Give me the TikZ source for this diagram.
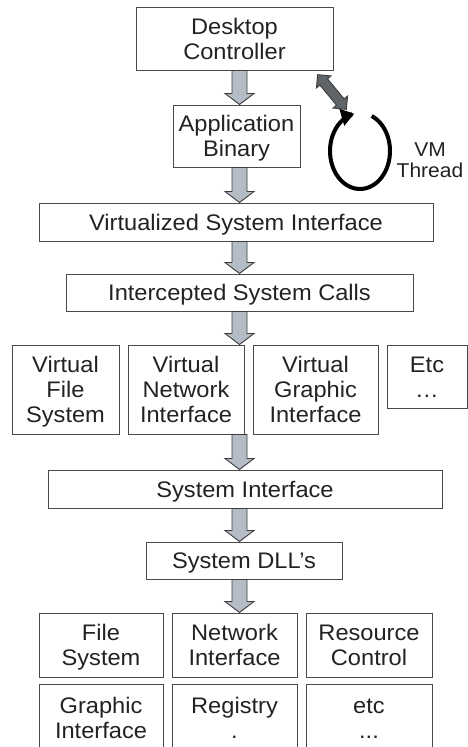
\documentclass[tikz,border=0pt]{standalone}
\usepackage{fontspec}
\setmainfont{Liberation Sans}[FakeStretch=1.05]
\usetikzlibrary{calc,shapes.arrows,arrows.meta}
\definecolor{boxline}{HTML}{4A4A4A}
\definecolor{txt}{HTML}{222222}
\definecolor{arrfill}{HTML}{B4BCC5}
\definecolor{arrline}{HTML}{3C3C3C}
\definecolor{dblfill}{HTML}{5E6468}
\newcommand\bt[1]{\raisebox{-3pt}[\height][\depth]{\begin{tabular}{@{}c@{}}#1\end{tabular}}}
\tikzset{
  box/.style={draw=boxline, line width=1pt, text=txt, inner sep=0pt,
    font=\fontsize{22.5}{25}\selectfont},
  blkarrow/.style={draw=arrline, fill=arrfill, line width=0.9pt, line join=miter},
  dblarrow/.style={double arrow, draw=arrline, fill=dblfill, line width=0.9pt,
    double arrow head extend=4.5pt, double arrow tip angle=90,
    inner xsep=0pt, inner ysep=4.5pt, minimum width=0pt},
  vmtext/.style={text=txt, align=center, inner sep=0pt, font=\fontsize{20}{21}\selectfont},
}
\newcommand\blkarr[2]{%
  \draw[blkarrow] let \p1=(#1.south), \p2=(#2.north) in
    (232pt,\y1) -- (232pt,\y2+11pt) -- (225pt,\y2+11pt) -- (239.5pt,\y2)
    -- (254pt,\y2+11pt) -- (247pt,\y2+11pt) -- (247pt,\y1) -- cycle;}
\begin{document}
\begin{tikzpicture}[x=1pt,y=-1pt]
\useasboundingbox (0,0) rectangle (468,747);
\clip (0,0) rectangle (468,747);
% boxes
\node[box, minimum width=197pt, minimum height=63pt] (desk) at (234.5,38.5) {\bt{Desktop\\Controller}};
\node[box, minimum width=127pt, minimum height=62pt] (app) at (236.5,136) {\bt{Application\\Binary}};
\node[box, minimum width=394pt, minimum height=38pt] (virt) at (236,222) {\bt{Virtualized System Interface}};
\node[box, minimum width=347pt, minimum height=37pt] (icpt) at (239.5,292.5) {\bt{Intercepted System Calls}};
\node[box, minimum width=107pt, minimum height=89pt] (vfs) at (65.5,389.5) {\bt{Virtual\\File\\System}};
\node[box, minimum width=116pt, minimum height=89pt] (vni) at (186,389.5) {\bt{Virtual\\Network\\Interface}};
\node[box, minimum width=125pt, minimum height=89pt] (vgi) at (315.5,389.5) {\bt{Virtual\\Graphic\\Interface}};
\node[box, minimum width=80pt, minimum height=63pt] (vetc) at (427,376.5) {\bt{Etc\\…}};
\node[box, minimum width=394pt, minimum height=38pt] (sysi) at (245,489) {\bt{System Interface}};
\node[box, minimum width=196pt, minimum height=37pt] (dll) at (244,560.5) {\bt{System DLL’s}};
\node[box, minimum width=124pt, minimum height=64pt] (fs) at (101,645) {\bt{File\\System}};
\node[box, minimum width=125pt, minimum height=64pt] (ni) at (234.5,645) {\bt{Network\\Interface}};
\node[box, minimum width=126pt, minimum height=64pt] (rc) at (369,645) {\bt{Resource\\Control}};
\node[box, minimum width=124pt, minimum height=68pt] (gi) at (101,718) {\bt{Graphic\\Interface}};
\node[box, minimum width=125pt, minimum height=68pt] (reg) at (234.5,718) {\bt{Registry\\.}};
\node[box, minimum width=126pt, minimum height=68pt] (etc) at (369,718) {\bt{etc\\...}};
% block arrows
\blkarr{desk}{app}
\blkarr{app}{virt}
\blkarr{virt}{icpt}
\blkarr{icpt}{vni}
\blkarr{vni}{sysi}
\blkarr{sysi}{dll}
\blkarr{dll}{ni}
% VM thread loop
\coordinate (vm) at (360,151);
\draw[line width=4pt, black, -{Triangle[length=13pt,width=17pt]}]
  plot[domain=-67:259, samples=60, smooth] ({360+30*cos(\x)}, {151+38*sin(\x)});
\node[vmtext] (vmt) at (430,160) {VM\\Thread};
% double arrow between controller and VM thread
\coordinate (dA) at (318,75);
\coordinate (dB) at (346,109);
\node[dblarrow, rotate=-50.4, minimum height=45pt] (dbl) at ($(dA)!0.5!(dB)$) {};
\end{tikzpicture}
\end{document}
